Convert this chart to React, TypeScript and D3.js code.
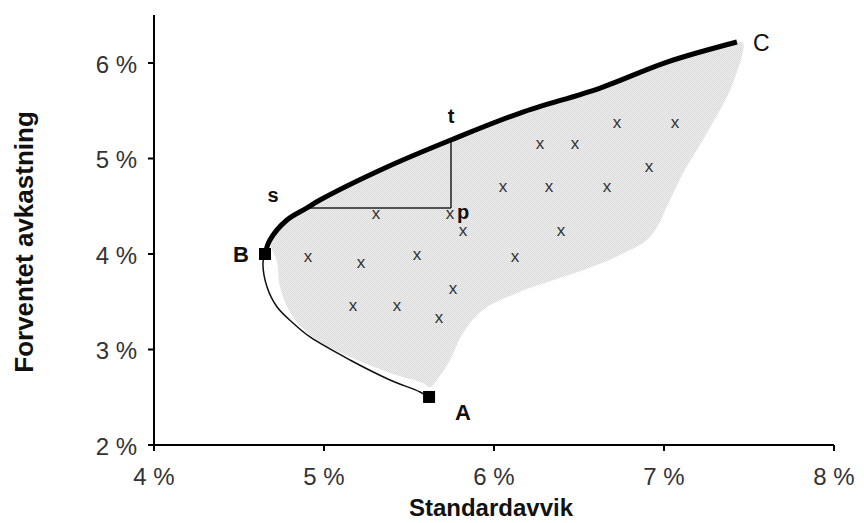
import React from "react";
import * as d3 from "d3";

// Efficient frontier (thick): from B to C  [σ %, μ %]
const frontierSigma = [4.653, 4.682, 4.782, 4.9, 4.976, 5.371, 5.747, 6.153, 6.624, 7.018, 7.429];
const frontierMu = [4.0, 4.147, 4.356, 4.482, 4.565, 4.911, 5.194, 5.476, 5.738, 6.01, 6.22];

// Lower (thin) minimum-variance branch: from B to A
const lowerSigma = [4.653, 4.641, 4.665, 4.724, 4.818, 4.918, 5.153, 5.388, 5.565, 5.612];
const lowerMu = [4.0, 3.906, 3.654, 3.445, 3.277, 3.131, 2.89, 2.681, 2.555, 2.503];

// Shaded feasible region: right edge (C -> A), then inner left edge (A -> B)
const regionRightSigma = [7.465, 7.406, 7.253, 7.112, 7.035, 6.918, 6.741, 6.524, 6.135, 5.935, 5.818, 5.741, 5.665, 5.624];
const regionRightMu = [6.209, 5.791, 5.267, 4.848, 4.565, 4.178, 3.99, 3.832, 3.592, 3.414, 3.173, 2.89, 2.681, 2.607];
const regionLeftSigma = [5.582, 5.388, 5.153, 4.959, 4.818, 4.741, 4.724];
const regionLeftMu = [2.649, 2.754, 2.921, 3.099, 3.34, 3.654, 3.916];

// Individual assets ("x")
const assetSigma = [5.306, 5.741, 5.818, 6.394, 4.906, 5.218, 5.547, 6.124, 5.759, 5.171, 5.429, 5.676, 6.724, 7.065, 6.271, 6.476, 6.912, 6.053, 6.324, 6.665];
const assetMu = [4.429, 4.429, 4.241, 4.251, 3.979, 3.916, 3.99, 3.979, 3.634, 3.456, 3.456, 3.33, 5.372, 5.372, 5.162, 5.162, 4.921, 4.712, 4.712, 4.712];

// Named points
const pointA = [5.618, 2.503];
const pointB = [4.653, 4.0];
const pointC = [7.429, 6.22];
const pointS = [4.9, 4.482];
const pointT = [5.747, 5.194];
const pointP = [5.747, 4.482];

const xTicks = [4, 5, 6, 7, 8];
const yTicks = [2, 3, 4, 5, 6];
const xTitle = "Standardavvik";
const yTitle = "Forventet avkastning";

const W = 864;
const H = 523;

export default function App() {
  const x = d3.scaleLinear().domain([4, 8]).range([154, 834]);
  const y = d3.scaleLinear().domain([2, 6]).range([445, 63]);

  const line = d3
    .line<[number, number]>()
    .x((d) => x(d[0]))
    .y((d) => y(d[1]))
    .curve(d3.curveCatmullRom.alpha(0.5));

  const frontier: [number, number][] = frontierSigma.map((s, i) => [s, frontierMu[i]]);
  const lower: [number, number][] = lowerSigma.map((s, i) => [s, lowerMu[i]]);
  const region: [number, number][] = [
    ...frontier.slice(1),
    ...regionRightSigma.map((s, i) => [s, regionRightMu[i]] as [number, number]),
    ...regionLeftSigma.map((s, i) => [s, regionLeftMu[i]] as [number, number]),
  ];
  const regionPath = d3
    .line<[number, number]>()
    .x((d) => x(d[0]))
    .y((d) => y(d[1]))
    .curve(d3.curveCatmullRomClosed.alpha(0.5))(region);

  const font = "Arial, 'Liberation Sans', sans-serif";
  const sq = 12;

  return (
    <svg
      width={W}
      height={H}
      style={{ position: "absolute", left: 0, top: 0, background: "#fff" }}
      fontFamily={font}
    >
      <defs>
        <pattern id="dither" width="2" height="2" patternUnits="userSpaceOnUse">
          <rect width="2" height="2" fill="#efefef" />
          <rect width="1" height="1" fill="#d9d9d9" />
          <rect x="1" y="1" width="1" height="1" fill="#d9d9d9" />
        </pattern>
      </defs>
      <rect width={W} height={H} fill="#fff" />

      {/* shaded region */}
      <path d={regionPath || ""} fill="url(#dither)" stroke="none" />

      {/* asset markers */}
      {assetSigma.map((s, i) => (
        <text
          key={i}
          x={x(s)}
          y={y(assetMu[i])}
          textAnchor="middle"
          dominantBaseline="central"
          fontSize={17}
          fill="#333"
        >
          x
        </text>
      ))}

      {/* s-p and p-t lines */}
      <line x1={x(pointS[0])} y1={y(pointS[1])} x2={x(pointP[0])} y2={y(pointP[1])} stroke="#222" strokeWidth={1.5} />
      <line x1={x(pointP[0])} y1={y(pointP[1])} x2={x(pointT[0])} y2={y(pointT[1])} stroke="#222" strokeWidth={1.5} />

      {/* lower branch */}
      <path d={line(lower) || ""} fill="none" stroke="#111" strokeWidth={1.5} />
      {/* efficient frontier */}
      <path d={line(frontier) || ""} fill="none" stroke="#000" strokeWidth={5} strokeLinecap="butt" />

      {/* squares */}
      <rect x={x(pointB[0]) - sq / 2} y={y(pointB[1]) - sq / 2} width={sq} height={sq} fill="#000" />
      <rect x={x(pointA[0]) - sq / 2} y={y(pointA[1]) - sq / 2} width={sq} height={sq} fill="#000" />

      {/* point labels */}
      <text x={x(pointB[0]) - 16} y={y(pointB[1]) + 8} textAnchor="end" fontSize={22} fontWeight="bold" fill="#111">B</text>
      <text x={x(pointA[0]) + 26} y={y(pointA[1]) + 23} textAnchor="start" fontSize={22} fontWeight="bold" fill="#111">A</text>
      <text x={x(pointC[0]) + 16} y={y(pointC[1]) + 9} textAnchor="start" fontSize={23} fill="#111">C</text>
      <text x={x(pointS[0]) - 34} y={y(pointS[1]) - 6} textAnchor="middle" fontSize={20} fontWeight="bold" fill="#111">s</text>
      <text x={x(pointT[0])} y={y(pointT[1]) - 17} textAnchor="middle" fontSize={20} fontWeight="bold" fill="#111">t</text>
      <text x={x(pointP[0]) + 6} y={y(pointP[1]) + 11} textAnchor="start" fontSize={20} fontWeight="bold" fill="#111">p</text>

      {/* axes */}
      <line x1={x(4)} y1={15} x2={x(4)} y2={y(2)} stroke="#000" strokeWidth={2} />
      <line x1={x(4)} y1={y(2)} x2={x(8)} y2={y(2)} stroke="#000" strokeWidth={2} />
      {yTicks.map((t) => (
        <g key={"y" + t}>
          <line x1={x(4) - 6} y1={y(t)} x2={x(4)} y2={y(t)} stroke="#000" strokeWidth={2} />
          <text x={137} y={y(t) + 1} textAnchor="end" dominantBaseline="central" fontSize={24} fill="#333">
            {t + " %"}
          </text>
        </g>
      ))}
      {xTicks.map((t) => (
        <g key={"x" + t}>
          <line x1={x(t)} y1={y(2)} x2={x(t)} y2={y(2) + 6} stroke="#000" strokeWidth={2} />
          <text x={x(t)} y={y(2) + 31} textAnchor="middle" dominantBaseline="central" fontSize={24} fill="#333">
            {t + " %"}
          </text>
        </g>
      ))}

      {/* axis titles */}
      <text x={491} y={516} textAnchor="middle" fontSize={24} fontWeight="bold" fill="#111">
        {xTitle}
      </text>
      <text
        transform={`translate(24, 242) rotate(-90)`}
        textAnchor="middle"
        dominantBaseline="central"
        fontSize={26}
        fontWeight="bold"
        fill="#111"
      >
        {yTitle}
      </text>
    </svg>
  );
}
